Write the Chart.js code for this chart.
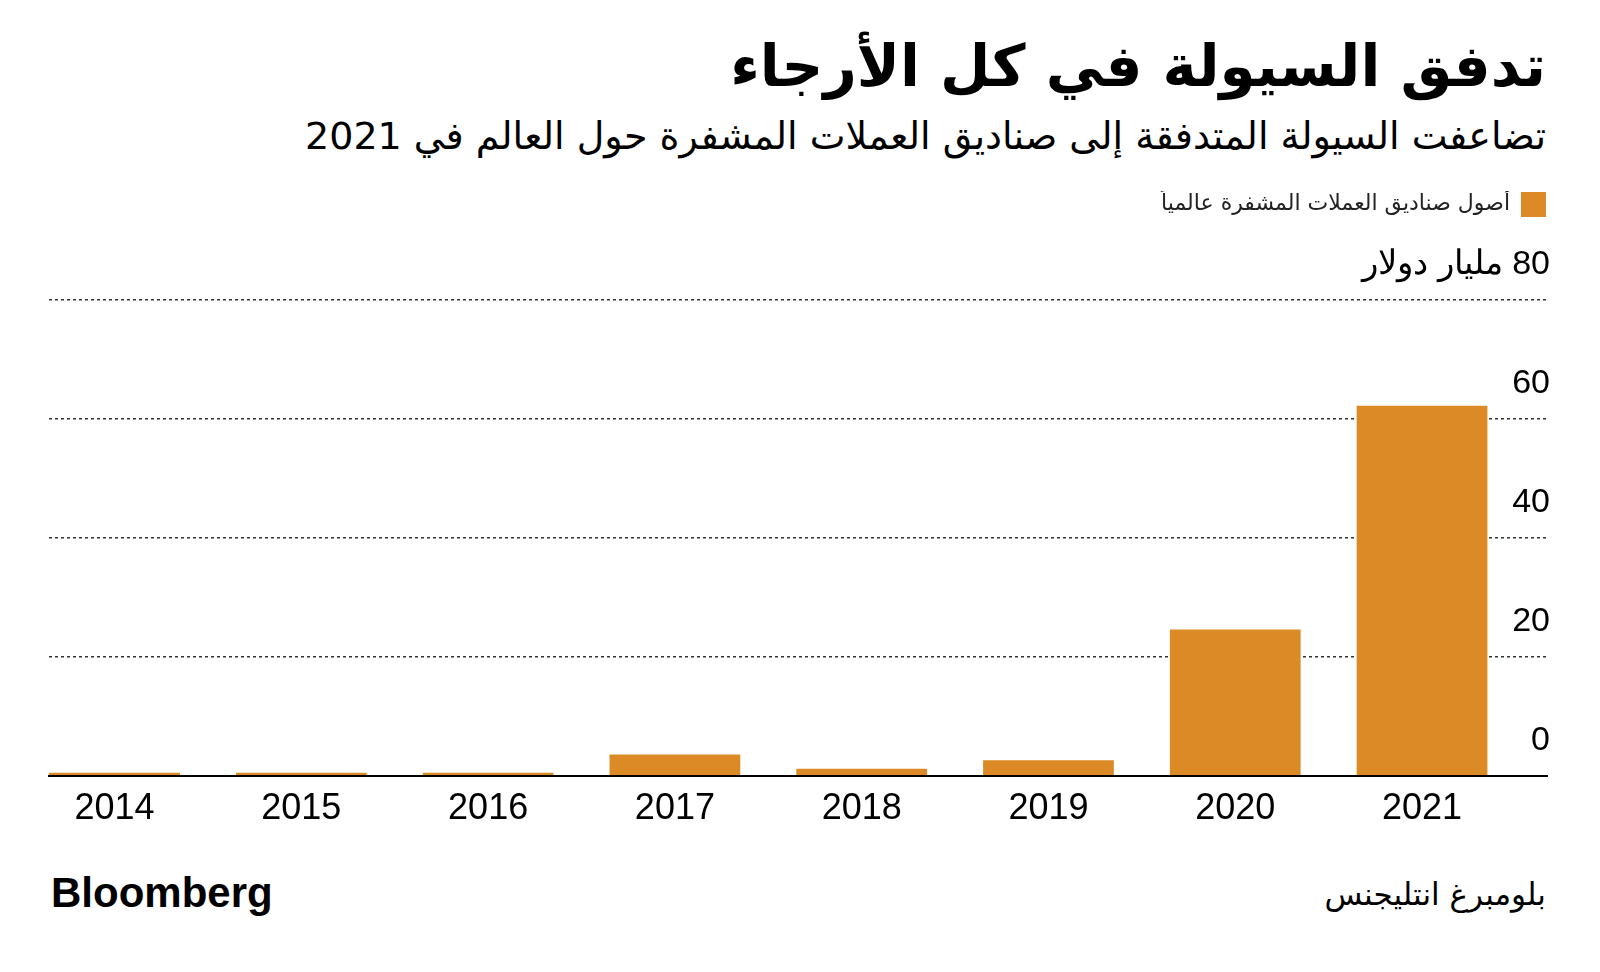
<!DOCTYPE html>
<html lang="ar">
<head>
<meta charset="utf-8">
<script src="https://cdn.jsdelivr.net/npm/chart.js@4.4.1/dist/chart.umd.min.js"></script>
<style>
  html, body { margin: 0; padding: 0; background: #fff; }
  body { width: 1600px; height: 972px; position: relative; overflow: hidden; }
  .ar { position: absolute; right: 54px; direction: rtl; font-family: "DejaVu Sans", sans-serif; color: #000; white-space: nowrap; }
  #title { top: 32px; font-size: 58px; font-weight: bold; }
  #subtitle { top: 114px; font-size: 38px; }
  #source { top: 876px; font-size: 31px; }
  #logo { position: absolute; left: 51px; top: 869px; font-family: "Liberation Sans", Arial, sans-serif; font-weight: bold; font-size: 42px; letter-spacing: 0; color: #000; }
  #wrap { position: absolute; left: 0; top: 170px; width: 1600px; height: 680px; }
</style>
</head>
<body>
<div id="title" class="ar">تدفق السيولة في كل الأرجاء</div>
<div id="subtitle" class="ar">تضاعفت السيولة المتدفقة إلى صناديق العملات المشفرة حول العالم في 2021</div>
<div id="wrap"><canvas id="chart"></canvas></div>
<div id="logo">Bloomberg</div>
<div id="source" class="ar">بلومبرغ انتليجنس</div>

<script>
// ===== dados =====
const anos = [2014, 2015, 2016, 2017, 2018, 2019, 2020, 2021];
const ativos = [0.5, 0.5, 0.5, 3.6, 1.2, 2.6, 24.6, 62.2];   // مليار دولار
const ticksY = [0, 20, 40, 60, 80];
const nomeSerie = 'أصول صناديق العملات المشفرة عالمياً';
const unidade = 'مليار دولار';

const laranja = '#DB8A26';

// espaço extra abaixo da legenda
const legendaExtra = {
  id: 'legendaExtra',
  beforeInit(chart) {
    const fitOrig = chart.legend.fit;
    chart.legend.fit = function () {
      fitOrig.bind(chart.legend)();
      this.height += 73;
    };
  }
};

new Chart(document.getElementById('chart'), {
  type: 'bar',
  data: {
    datasets: [{
      label: nomeSerie,
      data: anos.map((a, i) => ({ x: a, y: ativos[i] })),
      backgroundColor: laranja,
      categoryPercentage: 1,
      barPercentage: 0.7
    }]
  },
  options: {
    responsive: true,
    maintainAspectRatio: false,
    animation: false,
    layout: { padding: { left: 49, right: 53, top: 21, bottom: 7 } },
    plugins: {
      tooltip: { enabled: false },
      legend: {
        position: 'top',
        align: 'start',
        rtl: true,
        textDirection: 'rtl',
        labels: {
          boxWidth: 25,
          boxHeight: 25,
          padding: 1,
          color: '#222',
          font: { family: 'DejaVu Sans', size: 22 }
        }
      }
    },
    scales: {
      x: {
        type: 'linear',
        min: 2013.649,
        max: 2021.669,
        offset: false,
        grid: { display: false, drawTicks: false },
        border: { display: true, color: '#000', width: 2 },
        afterBuildTicks: s => { s.ticks = anos.map(v => ({ value: v })); },
        ticks: {
          padding: 12,
          color: '#000',
          font: { family: 'Liberation Sans', size: 36 },
          callback: v => String(v)
        }
      },
      y: {
        position: 'right',
        min: 0,
        max: 80,
        afterBuildTicks: s => { s.ticks = ticksY.map(v => ({ value: v })); },
        afterFit: s => { s.width = 0; },
        grid: {
          drawTicks: false,
          color: c => c.tick.value === 0 ? 'rgba(0,0,0,0)' : '#333',
          lineWidth: 1.5
        },
        border: { display: false, dash: [3, 3] },
        ticks: {
          mirror: true,
          padding: 3,
          labelOffset: -35,
          color: '#000',
          font: { family: 'Liberation Sans', size: 34 },
          callback: v => v === 80 ? '\u2067' + v + ' ' + unidade + '\u2069' : String(v)
        }
      }
    }
  },
  plugins: [legendaExtra]
});
</script>
</body>
</html>
